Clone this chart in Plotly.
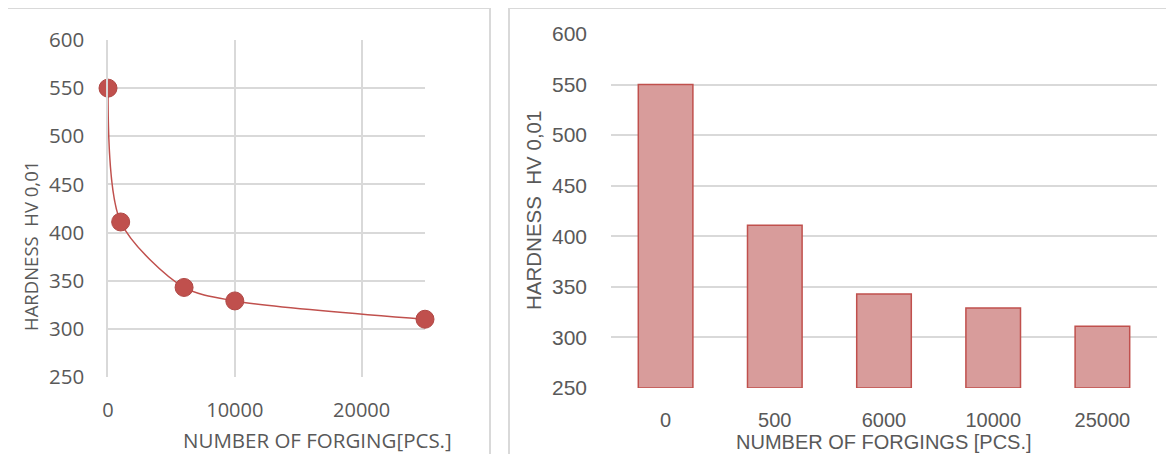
import plotly.graph_objects as go

# The page body adds an 8px margin, so the figure is drawn 8px smaller
# and all reference pixel positions are shifted by that offset.
OFF = 8
W, H = 1174 - OFF, 454 - OFF

# Data
forgings_num = [0, 1000, 6000, 10000, 25000]
hardness_line = [550, 411, 343, 329, 310]
forgings_cat = ["0", "500", "6000", "10000", "25000"]
hardness_bar = [550, 411, 343, 329, 311]
x_ticks_left = [0, 10000, 20000]
y_ticks = [250, 300, 350, 400, 450, 500, 550, 600]

TXT = "#595959"
GRID = "#D9D9D9"
RED = "#C0504D"
FONT_L = "Open Sans, Liberation Sans, sans-serif"
FONT_R = "Liberation Sans, Arial, sans-serif"


def px(x):
    return (x - OFF) / W


def py(y):
    return 1 - (y - OFF) / H


fig = go.Figure()

fig.add_trace(go.Scatter(
    x=forgings_num, y=hardness_line, mode="lines+markers",
    line=dict(color=RED, width=1.5, shape="spline", smoothing=0.8),
    marker=dict(size=18, color=RED, line=dict(color="#B04845", width=1)),
    cliponaxis=False, xaxis="x", yaxis="y", showlegend=False,
))

fig.add_trace(go.Bar(
    x=forgings_cat, y=[v - 250 for v in hardness_bar], base=250,
    marker=dict(color="#D89C9B", line=dict(color=RED, width=1.5)),
    width=0.5, xaxis="x2", yaxis="y2", showlegend=False,
))

fig.update_layout(
    width=W, height=H,
    margin=dict(l=0, r=0, t=0, b=0, autoexpand=False),
    paper_bgcolor="white", plot_bgcolor="white",
    xaxis=dict(
        domain=[px(108), px(425)], range=[0, 25000],
        tickvals=x_ticks_left, ticktext=[str(v) for v in x_ticks_left],
        showgrid=True, gridcolor=GRID, gridwidth=1.5, zeroline=False,
        showline=False, ticks="", ticklabelstandoff=19, automargin=False,
        tickfont=dict(family=FONT_L, size=20, color=TXT),
        anchor="y",
    ),
    yaxis=dict(
        domain=[py(377), py(40)], range=[250, 600],
        tickvals=y_ticks,
        showgrid=True, gridcolor=GRID, gridwidth=1.5, zeroline=False,
        showline=True, linecolor=GRID, linewidth=1.5, ticks="",
        ticklabelstandoff=18, automargin=False,
        tickfont=dict(family=FONT_L, size=20.5, color=TXT),
        anchor="x",
    ),
    xaxis2=dict(
        domain=[px(611), px(1157)], type="category",
        showgrid=False, zeroline=False, showline=False, ticks="",
        ticklabelstandoff=18, automargin=False,
        tickfont=dict(family=FONT_R, size=20, color=TXT),
        anchor="y2",
    ),
    yaxis2=dict(
        domain=[py(388), py(34)], range=[250, 600],
        tickvals=y_ticks,
        showgrid=True, gridcolor=GRID, gridwidth=1.5, zeroline=False,
        showline=False, ticks="", ticklabelstandoff=23, automargin=False,
        tickfont=dict(family=FONT_R, size=21, color=TXT),
        anchor="x2",
    ),
    bargap=0.5,
)

shapes = [
    dict(type="rect", xref="paper", yref="paper",
         x0=px(6), x1=px(490), y0=py(470), y1=py(8),
         line=dict(color=GRID, width=2), fillcolor="rgba(0,0,0,0)", layer="below"),
    dict(type="rect", xref="paper", yref="paper",
         x0=px(509), x1=px(1190), y0=py(470), y1=py(8),
         line=dict(color=GRID, width=2), fillcolor="rgba(0,0,0,0)", layer="below"),
]
fig.update_layout(shapes=shapes)

annotations = [
    dict(text="HARDNESS  HV 0,01", x=px(30), y=py(246), xref="paper", yref="paper",
         textangle=-90, showarrow=False, xanchor="center", yanchor="middle",
         font=dict(family=FONT_L, size=18.5, color=TXT)),
    dict(text="NUMBER OF FORGING[PCS.]", x=px(317), y=py(440), xref="paper", yref="paper",
         showarrow=False, xanchor="center", yanchor="middle",
         font=dict(family=FONT_L, size=20.5, color=TXT)),
    dict(text="HARDNESS  HV 0,01", x=px(533), y=py(211), xref="paper", yref="paper",
         textangle=-90, showarrow=False, xanchor="center", yanchor="middle",
         font=dict(family=FONT_R, size=20.5, color=TXT)),
    dict(text="NUMBER OF FORGINGS [PCS.]", x=px(884), y=py(442), xref="paper", yref="paper",
         showarrow=False, xanchor="center", yanchor="middle",
         font=dict(family=FONT_R, size=20, color=TXT)),
]
fig.update_layout(annotations=annotations)

fig.write_html("out.html")
